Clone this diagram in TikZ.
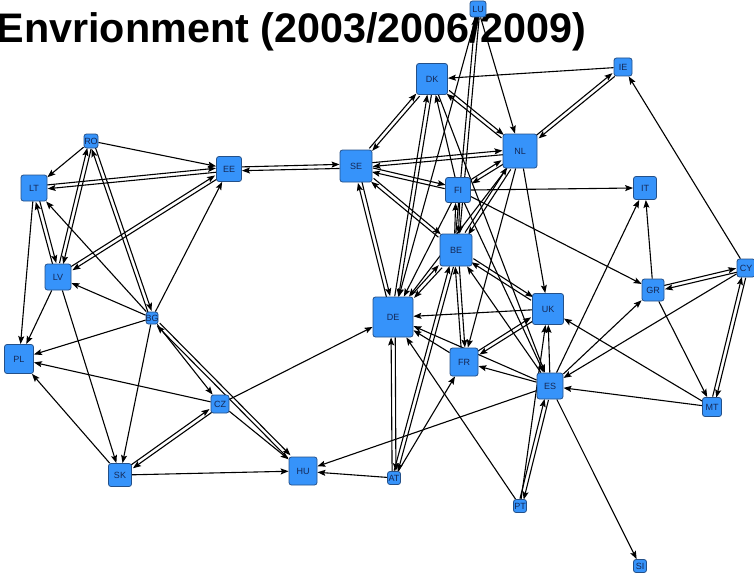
\documentclass[tikz,border=0pt]{standalone}
\usepackage{fontspec}
\setmainfont{Liberation Sans}
\usetikzlibrary{arrows.meta,backgrounds}
\definecolor{boxfill}{RGB}{54,147,250}
\definecolor{boxline}{RGB}{36,80,136}
\definecolor{boxtext}{RGB}{20,40,86}
\tikzset{
  cnode/.style={draw=boxline, fill=boxfill, line width=0.8pt, rounded corners=2.5pt,
    inner sep=0pt, minimum width=#1, minimum height=#1, text=boxtext,
    font=\fontsize{9}{9}\selectfont},
  link/.style={draw=black, line width=1.1pt,
    -{Stealth[length=8pt,width=6pt,inset=1.5pt]}},
}
% label that may spill over a small box without widening it
\newcommand\lbl[1]{\makebox[0pt]{#1}}
% directed link between two named nodes, shifted sideways by #1
\newcommand\linkat[3]{%
  \pgfpointanchor{#2}{center}\pgfgetlastxy\srcx\srcy
  \pgfpointanchor{#3}{center}\pgfgetlastxy\tgtx\tgty
  \pgfmathsetmacro\fwdang{atan2(\tgty-\srcy,\tgtx-\srcx)}%
  \pgfmathsetmacro\bwdang{\fwdang+180}%
  \draw[link] ([shift={(\fwdang+90:#1)}]#2.\fwdang) -- ([shift={(\fwdang+90:#1)}]#3.\bwdang);
}
\newcommand\onelink[2]{\linkat{0pt}{#1}{#2}}
\newcommand\twolink[2]{\linkat{1.9pt}{#1}{#2}\linkat{1.9pt}{#2}{#1}}

\begin{document}
\begin{tikzpicture}[x=1pt,y=-1pt]
\useasboundingbox (0,0) rectangle (754,575);

% countries
\node[cnode=16pt] (LU) at (478,9) {\lbl{LU}};
\node[cnode=31pt] (DK) at (432,79) {\lbl{DK}};
\node[cnode=18pt] (IE) at (623,67) {\lbl{IE}};
\node[cnode=34pt] (NL) at (520,151) {\lbl{NL}};
\node[cnode=32pt] (SE) at (356,166) {\lbl{SE}};
\node[cnode=25pt] (FI) at (458,190) {\lbl{FI}};
\node[cnode=23pt] (IT) at (645,188) {\lbl{IT}};
\node[cnode=25pt] (EE) at (229,169) {\lbl{EE}};
\node[cnode=14pt] (RO) at (91,141) {\lbl{RO}};
\node[cnode=26pt] (LT) at (34,188) {\lbl{LT}};
\node[cnode=26pt] (LV) at (58,277) {\lbl{LV}};
\node[cnode=12pt] (BG) at (152,318) {\lbl{BG}};
\node[cnode=29pt] (PL) at (19,359) {\lbl{PL}};
\node[cnode=18pt] (CZ) at (220,404) {\lbl{CZ}};
\node[cnode=23pt] (SK) at (120,475) {\lbl{SK}};
\node[cnode=28pt] (HU) at (303,471) {\lbl{HU}};
\node[cnode=13pt] (AT) at (394,478) {\lbl{AT}};
\node[cnode=40pt] (DE) at (393,317) {\lbl{DE}};
\node[cnode=32pt] (BE) at (456,250) {\lbl{BE}};
\node[cnode=31pt] (UK) at (548,309) {\lbl{UK}};
\node[cnode=28pt] (FR) at (464,362) {\lbl{FR}};
\node[cnode=26pt] (ES) at (550,386) {\lbl{ES}};
\node[cnode=22pt] (GR) at (653,290) {\lbl{GR}};
\node[cnode=18pt] (CY) at (746,268) {\lbl{CY}};
\node[cnode=19pt] (MT) at (712,407) {\lbl{MT}};
\node[cnode=13pt] (PT) at (520,506) {\lbl{PT}};
\node[cnode=13pt] (SI) at (640,566) {\lbl{SI}};

\begin{pgfonlayer}{background}
\node[anchor=base west, inner sep=0pt, font=\fontsize{41.3}{41.3}\selectfont\bfseries]
  (title) at (-3.5,42.5) {Envrionment (2003/2006/2009)};

% links of the eastern group
\onelink{RO}{LT}
\onelink{RO}{EE}
\twolink{RO}{BG}
\twolink{RO}{LV}
\twolink{LT}{EE}
\twolink{LV}{EE}
\twolink{LT}{LV}
\onelink{BG}{EE}
\onelink{BG}{LT}
\onelink{BG}{LV}
\onelink{BG}{PL}
\onelink{LT}{PL}
\onelink{LV}{PL}
\onelink{CZ}{PL}
\onelink{SK}{PL}
\onelink{LV}{SK}
\onelink{BG}{SK}
\onelink{BG}{CZ}
\twolink{BG}{HU}
\onelink{CZ}{HU}
\twolink{CZ}{SK}
\onelink{SK}{HU}
\onelink{CZ}{DE}
\onelink{AT}{HU}
\onelink{ES}{HU}

% links of the central group
\twolink{EE}{SE}
\twolink{SE}{DK}
\twolink{SE}{NL}
\twolink{SE}{FI}
\twolink{SE}{BE}
\twolink{SE}{DE}
\twolink{DK}{DE}
\twolink{DK}{NL}
\onelink{FI}{DK}
\onelink{IE}{DK}
\onelink{DK}{ES}
\twolink{FI}{NL}
\twolink{FI}{BE}
\onelink{FI}{DE}
\onelink{FI}{IT}
\onelink{FI}{GR}
\onelink{FI}{ES}
\twolink{NL}{BE}
\onelink{NL}{DE}
\onelink{NL}{FR}
\onelink{NL}{UK}
\twolink{NL}{IE}
\onelink{LU}{NL}
\twolink{LU}{BE}
\onelink{LU}{DE}
\twolink{BE}{DE}
\twolink{BE}{FR}
\twolink{BE}{UK}
\twolink{DE}{AT}
\twolink{AT}{BE}
\onelink{AT}{FR}
\onelink{PT}{DE}
\onelink{UK}{DE}
\onelink{FR}{DE}
\onelink{ES}{DE}
\twolink{UK}{FR}
\onelink{ES}{FR}
\onelink{ES}{BE}
\onelink{ES}{UK}
\twolink{ES}{PT}
\onelink{PT}{UK}
\onelink{ES}{SI}

% links of the southern group
\onelink{CY}{IE}
\twolink{CY}{GR}
\onelink{CY}{ES}
\twolink{CY}{MT}
\onelink{GR}{MT}
\onelink{MT}{ES}
\onelink{MT}{UK}
\onelink{ES}{GR}
\onelink{ES}{IT}
\onelink{GR}{IT}
\end{pgfonlayer}
\end{tikzpicture}
\end{document}
